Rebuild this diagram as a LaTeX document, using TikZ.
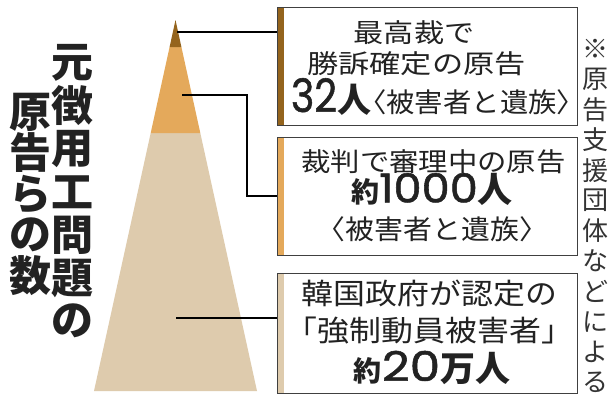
\documentclass[tikz,border=0pt]{standalone}
\usepackage{fontspec}
\usepackage{graphicx}
\newfontfamily\jp{Noto Sans CJK JP}
\newfontfamily\numf{Poppins}[FakeBold=1.2]
\definecolor{tipc}{HTML}{94641D}
\definecolor{midc}{HTML}{E4A95B}
\definecolor{basec}{HTML}{DECBAD}
\definecolor{ink}{HTML}{222222}
\newcommand{\fs}[1]{\fontsize{#1bp}{#1bp}\selectfont}
\newcommand{\sx}[2]{\scalebox{#1}[1]{#2}}
\tikzset{
  txt/.style={inner sep=0pt, outer sep=0pt, text=ink, font=\jp},
  ttl/.style={txt, font=\jp\bfseries\fs{42}},
  note/.style={txt, text=black!80, font=\jp\fs{26}},
  conn/.style={draw=black, line width=1.2bp},
  infobox/.style={draw=black!75, line width=0.9bp, minimum width=300bp, inner sep=0pt,
    path picture={\fill[#1] (path picture bounding box.north west) rectangle ([xshift=7bp]path picture bounding box.south west);}},
}
\begin{document}
\begin{tikzpicture}[x=1bp,y=-1bp]
\fill[white] (0,0) rectangle (613,396);
\useasboundingbox (0,0) rectangle (613,396);
% pyramid
\fill[basec] (150.7,133) -- (200.3,133) -- (257,391) -- (94,391) -- cycle;
\fill[midc] (169.6,47) -- (181.4,47) -- (200.3,133) -- (150.7,133) -- cycle;
\fill[tipc] (175.5,20) -- (181.4,47) -- (169.6,47) -- cycle;
\coordinate (p1) at (177,32);
\coordinate (p2) at (182,95);
\coordinate (p3) at (176,318);
% boxes
\node[infobox=tipc, minimum height=118bp] (b1) at (427,66) {};
\node[infobox=midc, minimum height=118bp] (b2) at (427,196) {};
\node[infobox=basec, minimum height=120bp] (b3) at (427,333) {};
% connectors
\draw[conn] (p1) -- (p1 -| b1.west);
\draw[conn] (p2) -- ++(65,0) |- (b2.west);
\draw[conn] (p3) -- (p3 -| b3.west);
% box 1 text
\node[txt, font=\jp\fs{26}] (t11) at (414,33) {\sx{1.16}{最高裁で}};
\node[txt, font=\jp\fs{26}] (t12) at (416.5,64) {\sx{1.2}{勝訴確定の原告}};
\node[txt, anchor=base west] (t13) at (291,112) {{\numf\fs{46}\sx{0.86}{32}}{\jp\bfseries\fs{34}人}{\jp\fs{27}\sx{1.05}{\kern-0.45em〈被害者と遺族〉\kern-0.45em}}};
% box 2 text
\node[txt, font=\jp\fs{26}] (t21) at (433.5,161.5) {\sx{1.13}{裁判で審理中の原告}};
\node[txt, anchor=base] (t22) at (432,202.5) {{\jp\bfseries\fs{28}約}{\numf\fs{40}\sx{1.12}{1000}}{\jp\bfseries\fs{35}人}};
\node[txt, font=\jp\fs{27}] (t23) at (432.5,229) {\sx{1.07}{\kern-0.45em〈被害者と遺族〉\kern-0.45em}};
% box 3 text
\node[txt, font=\jp\fs{29}] (t31) at (429.5,293.5) {\sx{1.1}{韓国政府が認定の}};
\node[txt, font=\jp\fs{29}] (t32) at (429.5,331) {\sx{1.1}{「強制動員被害者」}};
\node[txt, anchor=base] (t33) at (432,381) {{\jp\bfseries\fs{28}約}{\numf\fs{41}\sx{1.18}{20}}{\jp\bfseries\fs{35}万人}};
% title
\foreach \c [count=\i] in {元,徴,用,工,問,題,の}
  \node[ttl] (ta\i) at (72,{63+43*(\i-1)}) {\c};
\foreach \c [count=\i] in {原,告,ら,の,数}
  \node[ttl] (tb\i) at (30,{112+41*(\i-1)}) {\c};
% note
\foreach \c [count=\i] in {※,原,告,支,援,団,体,な,ど,に,よ,る}
  \node[note] (n\i) at (595,{49+30.3*(\i-1)}) {\c};
\end{tikzpicture}
\end{document}
